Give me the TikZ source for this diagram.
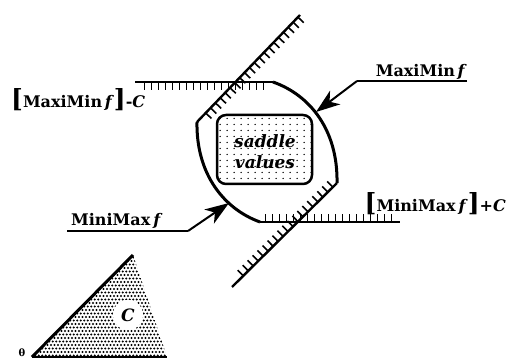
\documentclass[tikz,border=0pt]{standalone}
\usepackage{fontspec}
\setmainfont{DejaVu Serif}
\usetikzlibrary{arrows.meta,decorations.markings}
\begin{document}
\begin{tikzpicture}[x=1pt,y=-1pt,
  lab/.style={font=\fontsize{16}{18}\selectfont\bfseries, inner sep=0pt},
  curve/.style={line width=3pt},
  hline/.style={line width=2.4pt},
  leader/.style={line width=2pt, -{Stealth[length=24pt,width=17pt,inset=7pt]}},
  uline/.style={line width=2pt},
  brk/.style={font=\fontsize{25}{25}\selectfont\bfseries},
  hatch/.style n args={3}{postaction={decorate,decoration={markings,
     mark=between positions #1 and #2 step 7pt with {\draw[line width=1.6pt] (0pt,0pt) -- (0pt,#3);}}}}
]
\useasboundingbox (0,0) rectangle (509,358);
\clip (0,0) rectangle (509,358);

% constraint lines
\coordinate (tl1) at (135,82);
\coordinate (tl2) at (273,82);
\coordinate (td1) at (300,15);
\coordinate (td2) at (197,122);
\coordinate (bd1) at (337,183);
\coordinate (bd2) at (232,287);
\coordinate (bl1) at (260,222);
\coordinate (bl2) at (400,222);

\draw[hline, hatch={0.07}{0.95}{-8pt}] (tl1) -- (tl2);
\draw[hline, hatch={0.02}{0.94}{8pt}] (td1) -- (td2);
\draw[hline, hatch={0.04}{0.93}{-8pt}] (bd1) -- (bd2);
\draw[hline, hatch={0.04}{0.97}{8pt}] (bl1) -- (bl2);

% oval curves
\draw[curve] (tl2) .. controls (310,95) and (338,130) .. (bd1);
\draw[curve] (td2) .. controls (196,174) and (224,209) .. (bl1);

% saddle values box
\begin{scope}
  \clip[rounded corners=9pt] (217,115) rectangle (312,184);
  \foreach \i in {0,...,14}
    \foreach \j in {0,...,11}
      \fill (220+\i*7, 118.5+\j*6) circle (0.75pt);
\end{scope}
\node[draw, line width=2.5pt, rounded corners=9pt, minimum width=95pt, minimum height=69pt,
      inner sep=0pt] (box) at (264.5,149.5) {};
\node[font=\fontsize{17}{21}\selectfont\bfseries\itshape, align=center, inner sep=0pt]
      (sv) at (265,152) {saddle\\values};

% leader arrows
\coordinate (maxu) at (467,81);
\coordinate (maxk) at (357,81);
\coordinate (maxtip) at (316,112);
\draw[uline] (maxu) -- (maxk);
\draw[leader] (maxk) -- (maxtip);
\node[lab, anchor=base east] (maxlab) at (467,77) {MaxiMin\,\textit{f}};

\coordinate (minu) at (67,231);
\coordinate (mink) at (188,231);
\coordinate (mintip) at (229,203);
\draw[uline] (minu) -- (mink);
\draw[leader] (mink) -- (mintip);
\node[lab, anchor=base west] (minlab) at (71,226) {MiniMax\hspace{3pt}\textit{f}};

% bracket labels
\node[lab, anchor=base west] (maxc) at (11,108)
  {{\fontsize{25}{25}\selectfont[}MaxiMin\,\textit{f}{\fontsize{25}{25}\selectfont]}-\textit{C}};
\node[lab, anchor=base east] (minc) at (506,212)
  {{\fontsize{25}{25}\selectfont[}MiniMax\hspace{3pt}\textit{f}{\fontsize{25}{25}\selectfont]}+\textit{C}};

% triangle C
\coordinate (ta) at (32,357);
\coordinate (tb) at (133,255);
\coordinate (tc) at (167,357);
\begin{scope}
  \clip (ta) -- (tb) -- (tc) -- cycle;
  \foreach \j in {0,...,30}
    \foreach \i in {0,...,40}
      \fill ({30+\i*3.5+mod(\j,2)*1.75}, {254+\j*3.5}) circle (1.15pt);
\end{scope}
\draw[line width=3pt] (ta) -- (tb);
\draw[line width=2.2pt] (ta) -- (tc);
\fill[white] (128,315) circle (15pt);
\node[font=\fontsize{17}{17}\selectfont\bfseries\itshape, inner sep=0pt] (clab) at (128,315) {C};
\node[font=\fontsize{10}{10}\selectfont\bfseries, anchor=south, inner sep=0pt] (theta) at (22,357) {θ};
\end{tikzpicture}
\end{document}
